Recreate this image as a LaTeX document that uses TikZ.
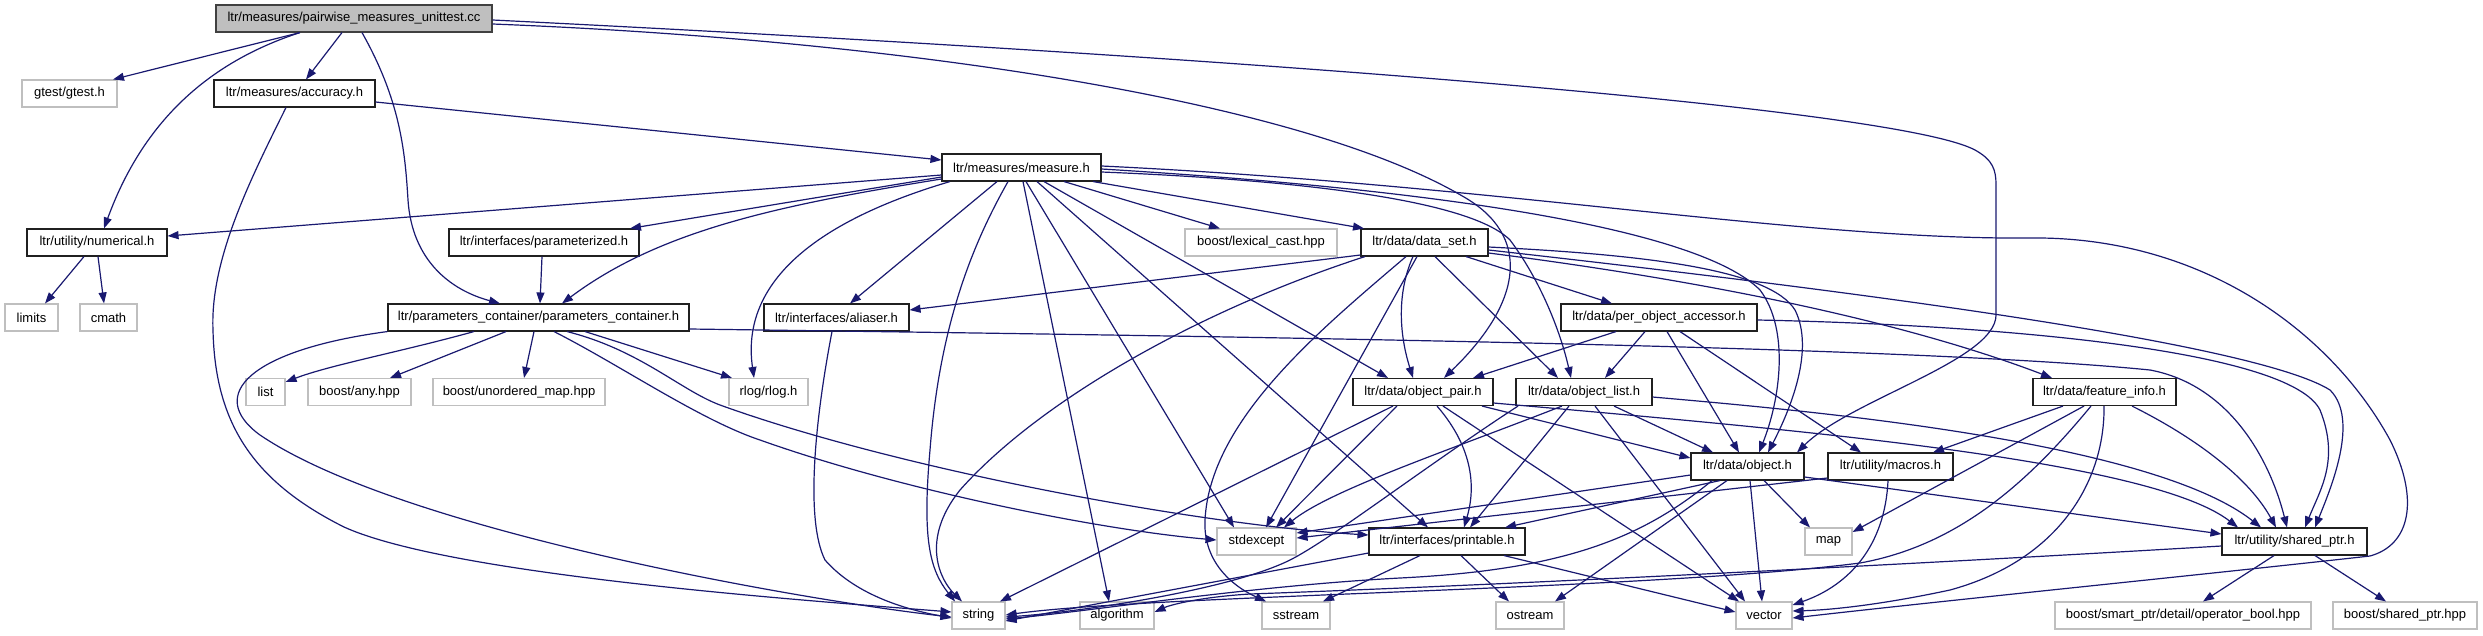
\documentclass[tikz,border=0pt]{standalone}
\usepackage{fontspec}
\setmainfont{Liberation Sans}
\usetikzlibrary{arrows.meta}
\definecolor{edgec}{HTML}{191970}
\definecolor{extc}{HTML}{BFBFBF}
\definecolor{rootfill}{HTML}{BFBFBF}
\definecolor{rootdraw}{HTML}{404040}
\definecolor{docdraw}{HTML}{202020}
\begin{document}
\begin{tikzpicture}[x=1pt,y=-1pt,
  box/.style={rectangle, inner sep=0pt, minimum height=27pt, line width=1.1pt, fill=white, font=\fontsize{13}{15}\selectfont},
  doc/.style={box, draw=docdraw},
  ext/.style={box, draw=extc},
  rootn/.style={box, draw=rootdraw, fill=rootfill},
  dep/.style={draw=edgec, line width=1.2pt, -{Triangle[length=11pt,width=8pt]}}]
\fill[white] (0,0) rectangle (2483,635);
\useasboundingbox (0,0) rectangle (2483,635);

% nodes
\node[rootn, minimum width=276] (root) at (354,18.5) {ltr/measures/pairwise\_measures\_unittest.cc};
\node[ext, minimum width=95] (gtest) at (69.5,93.5) {gtest/gtest.h};
\node[doc, minimum width=161] (accuracy) at (294.5,93.5) {ltr/measures/accuracy.h};
\node[doc, minimum width=140] (numerical) at (97,242.5) {ltr/utility/numerical.h};
\node[ext, minimum width=53] (limits) at (31.5,317.5) {limits};
\node[ext, minimum width=57] (cmath) at (108.5,317.5) {cmath};
\node[doc, minimum width=190] (parameterized) at (544,242.5) {ltr/interfaces/parameterized.h};
\node[doc, minimum width=301] (paramcont) at (538.5,317.5) {ltr/parameters\_container/parameters\_container.h};
\node[ext, minimum width=39] (list) at (265.5,392) {list};
\node[ext, minimum width=103] (anyh) at (359.5,392) {boost/any.hpp};
\node[ext, minimum width=172] (umap) at (519,392) {boost/unordered\_map.hpp};
\node[ext, minimum width=79] (rlog) at (768.5,392) {rlog/rlog.h};
\node[doc, minimum width=159] (measure) at (1021.5,167.5) {ltr/measures/measure.h};
\node[doc, minimum width=145] (aliaser) at (836.5,317.5) {ltr/interfaces/aliaser.h};
\node[ext, minimum width=152] (lexcast) at (1261,242.5) {boost/lexical\_cast.hpp};
\node[doc, minimum width=127] (dataset) at (1424.5,242.5) {ltr/data/data\_set.h};
\node[doc, minimum width=196] (poa) at (1659,317.5) {ltr/data/per\_object\_accessor.h};
\node[ext, minimum width=53] (string) at (978.5,615.5) {string};
\node[ext, minimum width=74] (algorithm) at (1117,615.5) {algorithm};
\node[ext, minimum width=79] (stdexcept) at (1256.5,541.5) {stdexcept};
\node[ext, minimum width=68] (sstream) at (1296,615.5) {sstream};
\node[doc, minimum width=140] (objpair) at (1423,392) {ltr/data/object\_pair.h};
\node[doc, minimum width=136] (objlist) at (1584,392) {ltr/data/object\_list.h};
\node[doc, minimum width=156] (printable) at (1447,541.5) {ltr/interfaces/printable.h};
\node[doc, minimum width=113] (object) at (1747.5,466.5) {ltr/data/object.h};
\node[doc, minimum width=125] (macros) at (1890.5,466.5) {ltr/utility/macros.h};
\node[ext, minimum width=47] (map) at (1828.5,541.5) {map};
\node[ext, minimum width=68] (ostream) at (1530,615.5) {ostream};
\node[ext, minimum width=56] (vector) at (1764,615.5) {vector};
\node[doc, minimum width=143] (featinfo) at (2104.5,392) {ltr/data/feature\_info.h};
\node[doc, minimum width=145] (sharedptr) at (2294.5,541.5) {ltr/utility/shared\_ptr.h};
\node[ext, minimum width=256] (opbool) at (2183,615.5) {boost/smart\_ptr/detail/operator\_bool.hpp};
\node[ext, minimum width=144] (bsp) at (2405,615.5) {boost/shared\_ptr.hpp};

% root
\draw[dep] (root.south -| 300,0) -- (gtest.north -| 113,0);
\draw[dep] (root.south -| 300,0) .. controls (200,65) and (140,130) .. (numerical.north -| 104,0);
\draw[dep] (root.south -| 342,0) -- (accuracy.north -| 306,0);
\draw[dep] (root.south -| 362,0) .. controls (400,100) and (405,150) .. (408,200) .. controls (412,260) and (450,290) .. (paramcont.north -| 500,0);
\draw[dep] (root.east |- 0,24) .. controls (900,40) and (1300,100) .. (1464,197) .. controls (1530,235) and (1525,300) .. (objpair.north -| 1444,0);
\draw[dep] (root.east |- 0,20) .. controls (1300,60) and (1900,110) .. (1975,150) .. controls (1993,160) and (1996,170) .. (1996,185) -- (1996,315) .. controls (1996,360) and (1850,400) .. (object.north -| 1797,0);

% accuracy
\draw[dep] (accuracy.east |- 0,102) -- (measure.west |- 0,160);
\draw[dep] (accuracy.south -| 286,0) .. controls (250,180) and (210,260) .. (213,330) .. controls (215,420) and (250,480) .. (344,527) .. controls (450,575) and (800,600) .. (string.west |- 0,612);

% numerical, parameterized
\draw[dep] (numerical.south -| 84,0) -- (limits.north -| 45,0);
\draw[dep] (numerical.south -| 98,0) -- (cmath.north -| 104,0);
\draw[dep] (parameterized.south -| 542,0) -- (paramcont.north -| 540,0);

% parameters container
\draw[dep] (paramcont.south -| 474,0) .. controls (400,352) and (330,365) .. (list.east |- 0,382);
\draw[dep] (paramcont.south -| 506,0) -- (anyh.north -| 390,0);
\draw[dep] (paramcont.south -| 534,0) -- (umap.north -| 524,0);
\draw[dep] (paramcont.south -| 585,0) -- (rlog.north -| 732,0);
\draw[dep] (paramcont.south -| 567,0) .. controls (640,350) and (680,390) .. (720,405) .. controls (900,470) and (1200,525) .. (printable.west |- 0,535);
\draw[dep] (paramcont.south -| 554,0) .. controls (620,365) and (700,420) .. (760,440) .. controls (900,490) and (1100,530) .. (stdexcept.west |- 0,540);
\draw[dep] (paramcont.south west) .. controls (250,350) and (205,395) .. (260,435) .. controls (400,530) and (800,600) .. (string.west |- 0,617);
\draw[dep] (paramcont.east |- 0,329) .. controls (1200,336) and (1900,345) .. (2150,370) .. controls (2230,385) and (2270,460) .. (sharedptr.north -| 2287,0);

% measure
\draw[dep] (measure.west |- 0,175) -- (numerical.east |- 0,236);
\draw[dep] (measure.west |- 0,177) -- (parameterized.north -| 630,0);
\draw[dep] (measure.west |- 0,179) .. controls (780,205) and (660,230) .. (paramcont.north -| 562,0);
\draw[dep] (measure.south -| 950,0) .. controls (820,220) and (740,280) .. (rlog.north -| 754,0);
\draw[dep] (measure.south -| 997,0) -- (aliaser.north -| 850,0);
\draw[dep] (measure.south -| 1008,0) .. controls (975,240) and (940,320) .. (930,450) .. controls (922,540) and (930,570) .. (string.north -| 955,0);
\draw[dep] (measure.south -| 1023,0) -- (algorithm.north -| 1109,0);
\draw[dep] (measure.south -| 1026,0) -- (stdexcept.north -| 1234,0);
\draw[dep] (measure.south -| 1037,0) -- (printable.north -| 1428,0);
\draw[dep] (measure.south -| 1044,0) -- (objpair.north -| 1388,0);
\draw[dep] (measure.south -| 1064,0) -- (lexcast.north -| 1220,0);
\draw[dep] (measure.south -| 1093,0) -- (dataset.north -| 1364,0);
\draw[dep] (measure.east |- 0,172) .. controls (1300,180) and (1470,200) .. (1510,240) .. controls (1540,280) and (1560,330) .. (objlist.north -| 1571,0);
\draw[dep] (measure.east |- 0,169) .. controls (1450,190) and (1700,230) .. (1760,290) .. controls (1790,330) and (1780,400) .. (object.north -| 1759,0);
\draw[dep] (measure.east |- 0,166) .. controls (1500,185) and (1800,240) .. (2030,238) .. controls (2200,236) and (2330,330) .. (2390,440) .. controls (2420,500) and (2410,545) .. (2370,556) .. controls (2200,575) and (1950,600) .. (vector.east |- 0,618);

% data_set
\draw[dep] (dataset.west |- 0,255) -- (aliaser.east |- 0,310);
\draw[dep] (dataset.south -| 1365,0) .. controls (1200,310) and (1040,400) .. (960,490) .. controls (920,540) and (940,580) .. (string.north -| 962,0);
\draw[dep] (dataset.south -| 1406,0) .. controls (1320,330) and (1210,420) .. (1205,520) .. controls (1203,560) and (1230,585) .. (sstream.north -| 1266,0);
\draw[dep] (dataset.south -| 1417,0) -- (stdexcept.north -| 1266,0);
\draw[dep] (dataset.south -| 1413,0) .. controls (1398,290) and (1398,330) .. (objpair.north -| 1413,0);
\draw[dep] (dataset.south -| 1435,0) -- (objlist.north -| 1558,0);
\draw[dep] (dataset.south -| 1466,0) -- (poa.north -| 1612,0);
\draw[dep] (dataset.east |- 0,247) .. controls (1650,255) and (1770,270) .. (1795,310) .. controls (1815,350) and (1790,410) .. (object.north -| 1768,0);
\draw[dep] (dataset.east |- 0,250) .. controls (1800,285) and (2250,340) .. (2330,390) .. controls (2360,420) and (2330,490) .. (sharedptr.north -| 2315,0);
\draw[dep] (dataset.east |- 0,253) .. controls (1700,280) and (1900,320) .. (featinfo.north -| 2052,0);

% per_object_accessor
\draw[dep] (poa.south -| 1616,0) -- (objpair.north -| 1473,0);
\draw[dep] (poa.south -| 1645,0) -- (objlist.north -| 1605,0);
\draw[dep] (poa.south -| 1667,0) -- (object.north -| 1739,0);
\draw[dep] (poa.south -| 1680,0) -- (macros.north -| 1861,0);
\draw[dep] (poa.east |- 0,320) .. controls (2000,325) and (2290,350) .. (2320,410) .. controls (2340,460) and (2320,490) .. (sharedptr.north -| 2305,0);

% object_pair
\draw[dep] (objpair.south -| 1482,0) -- (object.west |- 0,458);
\draw[dep] (objpair.south -| 1397,0) -- (stdexcept.north -| 1276,0);
\draw[dep] (objpair.south -| 1393,0) -- (string.north -| 1000,0);
\draw[dep] (objpair.south -| 1437,0) .. controls (1475,450) and (1475,490) .. (printable.north -| 1464,0);
\draw[dep] (objpair.south -| 1443,0) -- (vector.north -| 1739,0);
\draw[dep] (objpair.east |- 0,403) .. controls (1800,430) and (2150,460) .. (sharedptr.north -| 2238,0);

% object_list
\draw[dep] (objlist.south -| 1614,0) -- (object.north -| 1713,0);
\draw[dep] (objlist.south -| 1562,0) .. controls (1450,450) and (1330,490) .. (stdexcept.north -| 1284,0);
\draw[dep] (objlist.south -| 1518,0) .. controls (1420,470) and (1330,540) .. (1290,560) .. controls (1230,590) and (1080,612) .. (string.east |- 0,617);
\draw[dep] (objlist.south -| 1569,0) -- (printable.north -| 1470,0);
\draw[dep] (objlist.south -| 1595,0) -- (vector.north -| 1745,0);
\draw[dep] (objlist.east |- 0,397) .. controls (1800,410) and (2150,440) .. (sharedptr.north -| 2261,0);

% object
\draw[dep] (object.west |- 0,475) -- (stdexcept.east |- 0,533);
\draw[dep] (object.south -| 1720,0) -- (printable.north -| 1505,0);
\draw[dep] (object.south -| 1712,0) .. controls (1640,540) and (1560,570) .. (1400,578) .. controls (1250,586) and (1100,610) .. (string.east |- 0,619);
\draw[dep] (object.south -| 1727,0) -- (ostream.north -| 1555,0);
\draw[dep] (object.south -| 1750,0) -- (vector.north -| 1762,0);
\draw[dep] (object.south -| 1764,0) -- (map.north -| 1810,0);
\draw[dep] (object.east |- 0,477) -- (sharedptr.west |- 0,534);

% printable
\draw[dep] (printable.west |- 0,553) -- (string.east |- 0,621);
\draw[dep] (printable.south -| 1420,0) -- (sstream.north -| 1323,0);
\draw[dep] (printable.south -| 1461,0) -- (ostream.north -| 1509,0);
\draw[dep] (printable.south -| 1504,0) -- (vector.west |- 0,612);

% macros
\draw[dep] (macros.west |- 0,478) -- (stdexcept.east |- 0,538);
\draw[dep] (macros.south -| 1888,0) .. controls (1885,545) and (1850,585) .. (vector.east |- 0,605);

% feature_info
\draw[dep] (featinfo.south -| 2063,0) -- (macros.north -| 1933,0);
\draw[dep] (featinfo.south -| 2084,0) -- (map.east |- 0,532);
\draw[dep] (featinfo.south -| 2091,0) .. controls (2030,480) and (1960,545) .. (1860,563) .. controls (1650,590) and (1150,595) .. (string.east |- 0,615);
\draw[dep] (featinfo.south -| 2104,0) .. controls (2105,480) and (2060,560) .. (1950,590) .. controls (1880,605) and (1830,610) .. (vector.east |- 0,611);
\draw[dep] (featinfo.south -| 2132,0) .. controls (2200,440) and (2250,480) .. (sharedptr.north -| 2276,0);

% shared_ptr
\draw[dep] (sharedptr.south -| 2274,0) -- (opbool.north -| 2203,0);
\draw[dep] (sharedptr.south -| 2315,0) -- (bsp.north -| 2386,0);
\draw[dep] (sharedptr.west |- 0,546) .. controls (1900,565) and (1500,585) .. (1250,594) .. controls (1200,597) and (1170,605) .. (algorithm.east |- 0,612);

% aliaser
\draw[dep] (aliaser.south -| 832,0) .. controls (815,420) and (805,520) .. (825,560) .. controls (860,600) and (920,612) .. (string.west |- 0,618);
\end{tikzpicture}
\end{document}
